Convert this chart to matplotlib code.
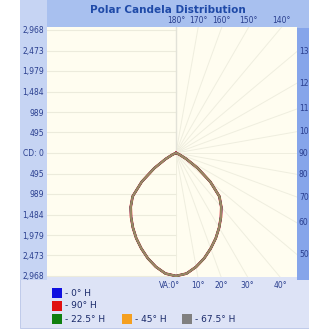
import numpy as np
import matplotlib
matplotlib.use('Agg')
import matplotlib.pyplot as plt
from matplotlib.patches import Rectangle

# vertical angles (deg from nadir) and candela values
angles = [0, 5, 10, 15, 20, 25, 30, 35, 40, 45, 50, 55, 60, 65, 70, 75, 80, 85, 90]
candela = [2968, 2920, 2790, 2630, 2450, 2270, 2080, 1890, 1700, 1480,
           1080, 640, 290, 100, 25, 0, 0, 0, 0]

series_names = ['0° H', '90° H', '22.5° H', '45° H', '67.5° H']
series_colors = ['#1010e0', '#e01010', '#108010', '#f5a020', '#808080']

scale_labels = ['2,968', '2,473', '1,979', '1,484', '989', '495']
scale_values = [2968, 2473, 1979, 1484, 989, 495]
side_angles = [130, 120, 110, 100, 90, 80, 70, 60, 50]
top_angles = [180, 170, 160, 150, 140]
bottom_angles = [0, 10, 20, 30, 40]

W, H = 309, 329
fig = plt.figure(figsize=(W / 100, H / 100), dpi=100)
fig.patch.set_facecolor('white')

def fx(px):
    return px / W

def fy(py):
    return 1 - py / H

# panel backgrounds
fig.patches.append(Rectangle((fx(20), fy(328)), fx(289), 328 / H, transform=fig.transFigure,
                             facecolor='#dde3f6', edgecolor='#b8c4e8', lw=0.6, zorder=0))
fig.patches.append(Rectangle((fx(20), fy(280)), fx(27), 280 / H, transform=fig.transFigure,
                             facecolor='#c6d4f3', edgecolor='none', zorder=0))
fig.patches.append(Rectangle((fx(47), fy(28)), fx(262), 28 / H, transform=fig.transFigure,
                             facecolor='#a8c0ef', edgecolor='none', zorder=0))
fig.patches.append(Rectangle((fx(297), fy(280)), fx(12), 252 / H, transform=fig.transFigure,
                             facecolor='#86a5ea', edgecolor='none', zorder=0))

ax = fig.add_axes([fx(47), fy(277), fx(250), 250 / H])
ax.set_zorder(5)
ax.set_facecolor('#fffdf0')
for s in ax.spines.values():
    s.set_visible(False)

pxcd = 123 / 2968.0
xmin, xmax = -129 / pxcd, 121 / pxcd
ymin, ymax = -124 / pxcd, 126 / pxcd
ax.set_xlim(xmin, xmax)
ax.set_ylim(ymin, ymax)

# faint grid: horizontal lines on the left, radial lines on the right
for v in scale_values:
    for sgn in (1, -1):
        ax.plot([xmin, 0], [sgn * v, sgn * v], color='#ecebdc', lw=0.8, zorder=1)
ax.plot([xmin, 0], [0, 0], color='#ecebdc', lw=0.8, zorder=1)
for a in range(0, 181, 10):
    r = np.radians(a)
    ax.plot([0, 4000 * np.sin(r)], [0, -4000 * np.cos(r)], color='#efeedf', lw=0.7, zorder=1)
ax.plot([0, 0], [0, ymax], color='#e2e2d8', lw=1.0, zorder=1)

th = np.radians(angles)
cd = np.array(candela)
xs = np.concatenate([-(cd * np.sin(th))[::-1], (cd * np.sin(th))[1:]])
ys = np.concatenate([-(cd * np.cos(th))[::-1], -(cd * np.cos(th))[1:]])
order = [1, 0, 2, 3, 4]
widths = [1.9, 1.5, 1.4, 1.3, 1.3]
alphas = [1, 1, 1, 1, 0.8]
for k, i in enumerate(order):
    ax.plot(xs, ys, color=series_colors[i], lw=widths[k], alpha=alphas[k], zorder=3)

# left scale
ticks = [v for v in scale_values] + [0] + [-v for v in scale_values[::-1]]
labels = scale_labels + ['CD: 0'] + scale_labels[::-1]
ax.set_yticks(ticks)
ax.set_yticklabels(labels, fontsize=5.5, color='#2a3f8f')
ax.tick_params(axis='y', length=0, pad=2)
ax.set_xticks([])

# right side angle labels
for a in side_angles:
    r = np.radians(a)
    y = -xmax * np.cos(r) / np.sin(r)
    ax.text(xmax + 45, y, str(a), fontsize=5.5, color='#2a3f8f', va='center', ha='left', clip_on=False)
# top angle labels
for a in top_angles:
    r = np.radians(180 - a)
    x = ymax * np.tan(r)
    ax.text(x, ymax + 50, f'{a}°', fontsize=5.5, color='#2a3f8f', ha='center', va='bottom', clip_on=False)
# bottom angle labels
for a in bottom_angles:
    r = np.radians(a)
    x = -ymin * np.tan(r)
    txt = f'VA:{a}°' if a == 0 else f'{a}°'
    ax.text(x + (-150 if a == 0 else 0), ymin - 100, txt, fontsize=5.5, color='#2a3f8f',
            ha='center', va='top', clip_on=False)

fig.text(fx(168), fy(10), 'Polar Candela Distribution', fontsize=7.5, fontweight='bold',
         color='#1f4aa8', ha='center', va='center')

# legend
leg_pos = [(52, 293), (52, 306), (52, 319), (122, 319), (182, 319)]
for (px, py), name, col in zip(leg_pos, series_names, series_colors):
    fig.patches.append(Rectangle((fx(px), fy(py + 5)), fx(10), 10 / H, transform=fig.transFigure,
                                 facecolor=col, edgecolor='none', zorder=2))
    fig.text(fx(px + 13), fy(py), '- ' + name, fontsize=6.5, color='#1a2a6a', va='center', ha='left')

plt.savefig('out.png', dpi=100, facecolor=fig.get_facecolor())
